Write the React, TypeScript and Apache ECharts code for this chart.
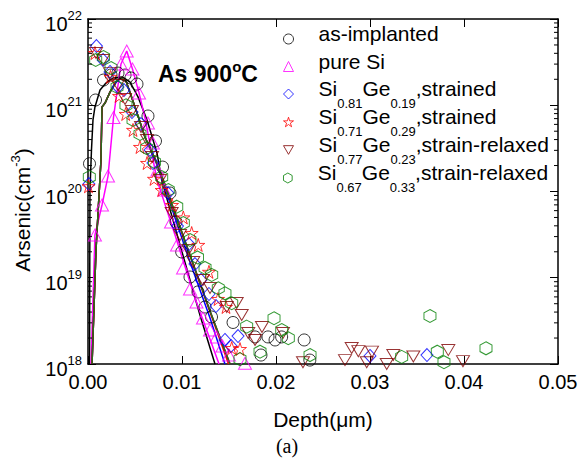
import React, { useEffect, useRef } from "react";
import * as echarts from "echarts";

// ---------- data (depth in µm, concentration in cm^-3) ----------
const asImplanted: [number, number][] = [
  [0.00016, 2.1e20], [0.0008, 1.15e21], [0.00165, 1.96e21], [0.00245, 2.24e21], [0.00319, 2.36e21],
  [0.00394, 2.24e21], [0.00457, 2.07e21], [0.00521, 1.76e21], [0.00638, 7.5e20], [0.00718, 3.85e20],
  [0.00793, 1.92e20], [0.00872, 9.6e19], [0.00936, 4.43e19], [0.00997, 1.99e19], [0.01085, 1.02e19],
  [0.0117, 6.84e18], [0.01245, 4.58e18], [0.01314, 3.51e18], [0.01543, 3.03e18], [0.01777, 2.06e18],
  [0.0184, 1.27e18], [0.01915, 2.06e18], [0.0199, 1.9e18], [0.0206, 2.06e18], [0.023, 1.9e18], [0.0236, 1.11e18],
];
const pureSi: [number, number][] = [
  [0.00074, 3.13e19], [0.00149, 6.97e19], [0.00213, 1.51e20], [0.00271, 7.21e20], [0.00351, 3.01e21],
  [0.00412, 4.26e21], [0.00473, 2.63e21], [0.00543, 1.39e21], [0.00638, 6.22e20], [0.00691, 3.65e20],
  [0.00739, 1.78e20], [0.00814, 1.04e20], [0.00883, 4.43e19], [0.00947, 2.4e19], [0.01011, 1.3e19],
  [0.01085, 7.4e18], [0.01154, 5.23e18], [0.01223, 3.41e18], [0.01298, 2.48e18], [0.01367, 2.06e18],
  [0.01431, 1.62e18], [0.015, 1.27e18], [0.0167, 1.02e18],
];
const siGe19Strained: [number, number][] = [
  [0.0001, 1.22e20], [0.0009, 4.86e21], [0.0016, 3.35e21], [0.00234, 2.43e21], [0.00319, 1.63e21],
  [0.00383, 1.5e21], [0.00468, 8.35e20], [0.00564, 6.06e20], [0.0066, 3.03e20], [0.00691, 2.14e20],
  [0.00851, 9.6e19], [0.00952, 3.98e19], [0.01074, 2.46e19], [0.01138, 1.44e19], [0.01202, 9.42e18],
  [0.01287, 6.48e18], [0.01362, 4.7e18], [0.01457, 1.9e18], [0.01521, 1.62e18], [0.01596, 2.11e18],
  [0.03, 1.24e18], [0.03606, 1.27e18],
];
const siGe29Strained: [number, number][] = [
  [0.00005, 1.15e20], [0.00074, 4.03e21], [0.00239, 2.13e21], [0.0033, 1.28e21], [0.00401, 7.92e20],
  [0.00479, 5.17e20], [0.00553, 3.28e20], [0.00628, 2.14e20], [0.00702, 1.4e20], [0.00784, 1.04e20],
  [0.00894, 6.97e19], [0.01014, 5.0e19], [0.01103, 3.3e19], [0.01173, 2.4e19], [0.01287, 1.17e19],
  [0.01383, 5.67e18], [0.01468, 4.58e18], [0.01529, 1.53e18], [0.01617, 1.49e18],
];
const siGe23Relaxed: [number, number][] = [
  [0.00085, 4.03e21], [0.0016, 3.35e21], [0.00234, 2.36e21], [0.00319, 1.72e21], [0.00394, 1.18e21],
  [0.00468, 8.58e20], [0.00564, 5.6e20], [0.00628, 3.96e20], [0.00681, 2.51e20], [0.00766, 1.36e20],
  [0.0089, 5.63e19], [0.00979, 3.13e19], [0.01067, 2.1e19], [0.0112, 1.52e19], [0.01223, 9.42e18],
  [0.01298, 7.6e18], [0.01476, 4.58e18], [0.01582, 5.1e18], [0.01635, 3.7e18], [0.01705, 2.29e18],
  [0.01777, 1.9e18], [0.01851, 2.69e18], [0.02074, 2.29e18], [0.02287, 1.05e18], [0.02734, 1.11e18],
  [0.02805, 1.53e18], [0.02876, 1.41e18], [0.02965, 1.05e18], [0.03021, 1.39e18], [0.03178, 1.0e18],
  [0.03248, 1.27e18], [0.03461, 1.22e18], [0.03833, 1.45e18], [0.03989, 1.08e18],
];
const siGe33Relaxed: [number, number][] = [
  [0.00014, 1.47e20], [0.00082, 3.35e21], [0.00165, 3.63e21], [0.00245, 2.7e21], [0.00309, 1.63e21],
  [0.00404, 1.0e21], [0.00479, 6.75e20], [0.00553, 4.64e20], [0.00624, 3.19e20], [0.00707, 2.2e20],
  [0.00784, 1.47e20], [0.00854, 1.04e20], [0.00944, 6.67e19], [0.01014, 4.31e19], [0.01085, 2.74e19],
  [0.01165, 1.72e19], [0.01245, 1.3e19], [0.01316, 1.08e19], [0.01386, 7.55e18], [0.01457, 6.6e18],
  [0.01529, 5.06e18], [0.01617, 1.14e18], [0.01688, 2.71e18], [0.0183, 1.39e18], [0.01979, 3.39e18],
  [0.02061, 2.48e18], [0.02131, 1.99e18], [0.02362, 1.27e18], [0.03337, 1.21e18], [0.03638, 3.6e18],
  [0.03716, 1.39e18], [0.03787, 1.05e18], [0.04234, 1.52e18],
];

// simulated profiles (solid lines)
const simAsImplanted: [number, number][] = [
  [0.00016, 1e18], [0.00021, 1.04e20], [0.00037, 3.03e20], [0.00053, 6.75e20], [0.00074, 9.55e20],
  [0.00128, 1.5e21], [0.00191, 1.81e21], [0.00266, 2.07e21], [0.00362, 2.13e21], [0.00447, 1.86e21],
  [0.00532, 1.25e21], [0.00628, 6.75e20], [0.00734, 2.8e20], [0.00784, 1.36e20], [0.00979, 2.4e19],
  [0.01191, 3.7e18], [0.01351, 1e18],
];
const simPureSi: [number, number][] = [
  [0.00032, 1e18], [0.00074, 3.13e19], [0.00149, 6.97e19], [0.00213, 1.51e20], [0.00271, 7.21e20],
  [0.00351, 3.01e21], [0.00412, 4.26e21], [0.00473, 2.63e21], [0.00543, 1.39e21], [0.00606, 7.11e20],
  [0.00734, 1.36e20], [0.00926, 3.13e19], [0.01138, 5.82e18], [0.01394, 1e18],
];
const simSiGeRise: [number, number][] = [
  [0.00043, 1e18], [0.00085, 2.1e19], [0.00138, 2.32e20], [0.00149, 9.55e20], [0.00181, 1.06e21],
  [0.00234, 1.42e21], [0.00298, 1.86e21], [0.00351, 2.07e21], [0.00404, 1.91e21], [0.005, 9.55e20],
  [0.00606, 4.28e20],
];
const simSiGeTail: [number, number][] = [
  [0.00734, 2.14e20], [0.0084, 1.04e20], [0.01085, 1.84e19], [0.01298, 4.12e18], [0.01511, 1e18],
];
const simSiGeRedTail: [number, number][] = [
  [0.00734, 2.1e20], [0.0084, 1.0e20], [0.01085, 1.8e19], [0.01298, 4.0e18], [0.01495, 1e18],
];
const simSiGeBlueTail: [number, number][] = [
  [0.00734, 2.03e20], [0.0084, 9.35e19], [0.01085, 1.52e19], [0.01298, 3.41e18], [0.01457, 1e18],
];

const decades = [18, 19, 20, 21];
const minorMultipliers = [2, 3, 4, 5, 6, 7, 8, 9];
const legendRowTops = [23, 50.5, 78, 106, 134, 162];

const FONT = "Liberation Sans";
const STAR = "path://M50,0L61.2,34.5L97.6,34.5L68.2,55.9L79.4,90.5L50,69.1L20.6,90.5L31.8,55.9L2.4,34.5L38.8,34.5Z";
const HEX = "path://M50,0L93.3,25L93.3,75L50,100L6.7,75L6.7,25Z";
const DOWN = "path://M0,0L100,0L50,86.6Z";

const markerSeries = [
  { name: "as-implanted", label: "{f|as-implanted}", data: asImplanted, color: "#000000", symbol: "circle", size: [12, 12] },
  { name: "pure Si", label: "{f|pure Si}", data: pureSi, color: "#ff00ff", symbol: "triangle", size: [13, 12] },
  { name: "Si0.81Ge0.19,strained", label: "{f|Si}{s|0.81}{n|Ge}{s|0.19}{n|,strained}", data: siGe19Strained, color: "#0000ff", symbol: "diamond", size: [12, 13] },
  { name: "Si0.71Ge0.29,strained", label: "{f|Si}{s|0.71}{n|Ge}{s|0.29}{n|,strained}", data: siGe29Strained, color: "#ff0000", symbol: STAR, size: [13, 13] },
  { name: "Si0.77Ge0.23,strain-relaxed", label: "{f|Si}{s|0.77}{n|Ge}{s|0.23}{n|,strain-relaxed}", data: siGe23Relaxed, color: "#800000", symbol: DOWN, size: [13, 11] },
  { name: "Si0.67Ge0.33,strain-relaxed", label: "{f|Si}{s|0.67}{n|Ge}{s|0.33}{n|,strain-relaxed}", data: siGe33Relaxed, color: "#008000", symbol: HEX, size: [12, 13] },
];

const lineSeries = [
  { data: simAsImplanted, color: "#000000" },
  { data: simPureSi, color: "#ff00ff" },
  { data: [...simSiGeRise, ...simSiGeBlueTail], color: "#0000ff" },
  { data: [...simSiGeRise, ...simSiGeRedTail], color: "#ff0000" },
  { data: [...simSiGeRise, ...simSiGeTail], color: "#800000" },
  { data: [...simSiGeRise, ...simSiGeTail], color: "#2d6a1f" },
];

export default function App() {
  const ref = useRef<HTMLDivElement>(null);
  useEffect(() => {
    if (!ref.current) return;
    const chart = echarts.init(ref.current, null, { renderer: "svg" });
    const minorTicks: number[] = [];
    decades.forEach((d) => minorMultipliers.forEach((m) => minorTicks.push(m * Math.pow(10, d))));

    const legendRich = {
      f: { fontSize: 21, lineHeight: 32, verticalAlign: "top", padding: [0, 0, 0, 20], fontFamily: FONT, color: "#000" },
      n: { fontSize: 21, lineHeight: 32, verticalAlign: "top", fontFamily: FONT, color: "#000" },
      s: { fontSize: 13, lineHeight: 13, verticalAlign: "top", padding: [19, 0, 0, 0], fontFamily: FONT, color: "#000" },
    };

    const axisLineStyle = { color: "#000", width: 1.5 };
    const option: any = {
      animation: false,
      backgroundColor: "#ffffff",
      textStyle: { fontFamily: FONT },
      grid: { left: 88, right: 23, top: 19, bottom: 99, containLabel: false },
      xAxis: [
        {
          type: "value", min: 0, max: 0.05, interval: 0.01, position: "bottom",
          axisLine: { show: true, onZero: false, lineStyle: axisLineStyle },
          axisTick: { inside: true, length: 8, lineStyle: { color: "#000", width: 1 } },
          axisLabel: { formatter: (v: number) => v.toFixed(2), fontSize: 20, color: "#000", margin: 8, fontFamily: FONT },
          splitLine: { show: false },
          name: "Depth(μm)", nameLocation: "middle", nameGap: 45,
          nameTextStyle: { fontSize: 21, color: "#000", fontFamily: FONT },
        },
        {
          type: "value", min: 0, max: 0.05, interval: 0.01, position: "top",
          axisLine: { show: true, onZero: false, lineStyle: axisLineStyle },
          axisTick: { inside: true, length: 8, lineStyle: { color: "#000", width: 1 } },
          axisLabel: { show: false }, splitLine: { show: false },
        },
      ],
      yAxis: [
        {
          type: "log", logBase: 10, min: 1e18, max: 1e22, position: "left",
          axisLine: { show: true, onZero: false, lineStyle: axisLineStyle },
          axisTick: { inside: true, length: 8, lineStyle: { color: "#000", width: 1 } },
          axisLabel: {
            formatter: (v: number) => `{b|10}{e|${Math.round(Math.log10(v))}}`,
            margin: 6,
            rich: {
              b: { fontSize: 20, lineHeight: 20, verticalAlign: "top", padding: [5, 0, 0, 0], fontFamily: FONT, color: "#000" },
              e: { fontSize: 13, lineHeight: 13, verticalAlign: "top", fontFamily: FONT, color: "#000" },
            },
          },
          splitLine: { show: false },
        },
        {
          type: "log", logBase: 10, min: 1e18, max: 1e22, position: "right",
          axisLine: { show: true, onZero: false, lineStyle: axisLineStyle },
          axisTick: { inside: true, length: 8, lineStyle: { color: "#000", width: 1 } },
          axisLabel: { show: false }, splitLine: { show: false },
        },
      ],
      legend: markerSeries.map((s, i) => ({
        data: [s.name],
        left: 283,
        top: legendRowTops[i],
        padding: 0,
        itemWidth: 10,
        itemHeight: 10,
        selectedMode: false,
        itemStyle: { borderWidth: 1 },
        formatter: () => s.label,
        textStyle: { rich: legendRich, fontFamily: FONT, fontSize: 21, color: "#000" },
      })),
      graphic: [
        {
          type: "text", x: 158, y: 59,
          style: {
            text: "{a|As 900}{s|o}{a|C}",
            fill: "#000",
            rich: {
              a: { fontSize: 23, fontWeight: "bold", lineHeight: 26, verticalAlign: "bottom", fontFamily: FONT },
              s: { fontSize: 15, fontWeight: "bold", lineHeight: 15, verticalAlign: "top", fontFamily: FONT },
            },
          },
        },
        {
          type: "text", x: 21, y: 210, rotation: Math.PI / 2,
          style: {
            text: "{a|Arsenic(cm}{s|-3}{a|)}",
            fill: "#000",
            align: "center",
            verticalAlign: "middle",
            rich: {
              a: { fontSize: 21, lineHeight: 24, verticalAlign: "bottom", fontFamily: FONT },
              s: { fontSize: 13, lineHeight: 13, verticalAlign: "top", fontFamily: FONT },
            },
          },
        },
        {
          type: "text", x: 287, y: 446,
          style: { text: "(a)", fill: "#000", font: '20px "Liberation Serif"', align: "center", verticalAlign: "middle" },
        },
      ],
      series: [
        ...lineSeries.map((l) => ({
          type: "line", data: l.data, showSymbol: false, symbol: "none", silent: true, z: 2,
          lineStyle: { color: l.color, width: 1.5 }, itemStyle: { color: l.color },
        })),
        ...markerSeries.map((s) => ({
          type: "scatter", name: s.name, data: s.data, symbol: s.symbol, symbolSize: s.size, z: 3, silent: true,
          itemStyle: { color: "rgba(0,0,0,0)", borderColor: s.color, borderWidth: 1 },
        })),
        {
          type: "custom", silent: true, clip: false, z: 5,
          data: minorTicks.map((v) => [0, v]),
          encode: { x: 0, y: 1 },
          renderItem: (_p: any, api: any) => {
            const v = api.value(1);
            const l = api.coord([0, v]);
            const r = api.coord([0.05, v]);
            return {
              type: "group",
              children: [
                { type: "line", shape: { x1: l[0], y1: l[1], x2: l[0] + 4, y2: l[1] }, style: { stroke: "#000", lineWidth: 1 } },
                { type: "line", shape: { x1: r[0] - 4, y1: r[1], x2: r[0], y2: r[1] }, style: { stroke: "#000", lineWidth: 1 } },
              ],
            };
          },
        },
      ],
    };
    chart.setOption(option);
    return () => chart.dispose();
  }, []);
  return (
    <div
      ref={ref}
      style={{ position: "fixed", left: 0, top: 0, width: 581, height: 463, background: "#fff" }}
    />
  );
}
